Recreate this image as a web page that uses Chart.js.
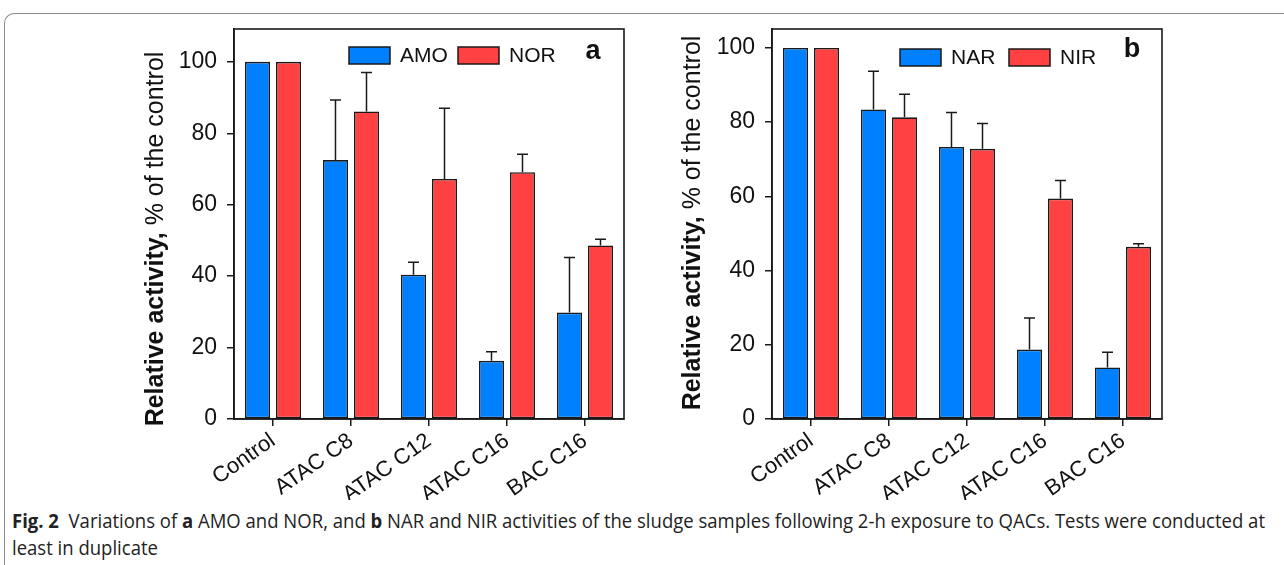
<!DOCTYPE html>
<html>
<head>
<meta charset="utf-8">
<script src="https://cdn.jsdelivr.net/npm/chart.js@4"></script>
<style>
  html, body { margin: 0; padding: 0; background: #fff; }
  body { width: 1284px; height: 565px; position: relative; overflow: hidden; }
  .frame {
    position: absolute; left: 4px; top: 13px; width: 1400px; height: 700px;
    border-left: 1px solid #8a8a8a; border-top: 1px solid #8a8a8a;
    border-top-left-radius: 10px;
  }
  .panel { position: absolute; top: 0; height: 500px; }
  #wrapA { left: 0; width: 640px; }
  #wrapB { left: 640px; width: 540px; }
  .caption {
    position: absolute; left: 12px; font-family: "Open Sans", sans-serif;
    font-size: 19.5px; color: #222; white-space: nowrap; transform-origin: left top;
  }
  .caption b { font-weight: 700; }
</style>
</head>
<body>
<div class="frame"></div>
<div class="panel" id="wrapA"><canvas id="chartA" width="640" height="500"></canvas></div>
<div class="panel" id="wrapB"><canvas id="chartB" width="540" height="500"></canvas></div>
<div class="caption" id="cap1" style="top:507px"><b>Fig. 2</b>&nbsp; Variations of <b>a</b> AMO and NOR, and <b>b</b> NAR and NIR activities of the sludge samples following 2-h exposure to QACs. Tests were conducted at</div>
<div class="caption" id="cap2" style="top:534px">least in duplicate</div>

<script>
// 数据
const categories = ['Control', 'ATAC C8', 'ATAC C12', 'ATAC C16', 'BAC C16'];

// 图 a
const amo    = [100, 72.5, 40.4, 16.3, 29.8];
const amoErr = [0, 16.8, 3.5, 2.5, 15.4];
const nor    = [100, 86.1, 67.2, 69.1, 48.6];
const norErr = [0, 10.9, 19.8, 5.0, 1.7];

// 图 b
const nar    = [100, 83.4, 73.3, 18.7, 13.9];
const narErr = [0, 10.3, 9.3, 8.5, 4.1];
const nir    = [100, 81.3, 72.8, 59.4, 46.4];
const nirErr = [0, 6.2, 6.8, 4.9, 0.8];

const BLUE = '#0080ff';
const RED = '#ff4141';
const INK = '#1a1a1a';
const FONT = '"Liberation Sans", Arial, sans-serif';

// 误差线 + 边框 + 图例 + 轴标题
const decorPlugin = {
  id: 'decor',
  afterDatasetsDraw(chart, args, o) {
    const ctx = chart.ctx;
    const ys = chart.scales.y;
    const area = chart.chartArea;
    ctx.save();

    // 误差线（只画上半部分）
    ctx.strokeStyle = INK;
    ctx.lineWidth = 1.5;
    chart.data.datasets.forEach((ds, i) => {
      const meta = chart.getDatasetMeta(i);
      meta.data.forEach((bar, j) => {
        const e = ds.err[j];
        if (!e) return;
        const top = ys.getPixelForValue(ds.data[j] + e);
        ctx.beginPath();
        ctx.moveTo(bar.x, bar.y);
        ctx.lineTo(bar.x, top);
        ctx.moveTo(bar.x - 5.5, top);
        ctx.lineTo(bar.x + 5.5, top);
        ctx.stroke();
      });
    });

    // 外框
    ctx.lineWidth = 1.6;
    ctx.strokeRect(area.left, area.top, area.right - area.left, area.bottom - area.top);

    // 图例
    ctx.font = '21px ' + FONT;
    ctx.textBaseline = 'middle';
    chart.data.datasets.forEach((ds, i) => {
      const x = area.left + o.legendX[i];
      const y = area.top + o.legendY;
      ctx.fillStyle = ds.backgroundColor;
      ctx.fillRect(x, y, 41, 17);
      ctx.lineWidth = 1.5;
      ctx.strokeStyle = INK;
      ctx.strokeRect(x, y, 41, 17);
      ctx.fillStyle = '#111';
      ctx.textAlign = 'left';
      ctx.fillText(ds.label, x + 51, y + 9);
    });

    // 面板字母
    ctx.font = 'bold 27px ' + FONT;
    ctx.textAlign = 'center';
    ctx.fillText(o.letter, area.left + o.letterX, area.top + o.letterY);

    // y 轴标题（粗体 + 常规混排）
    const boldPart = 'Relative activity,';
    const normPart = ' % of the control';
    ctx.font = 'bold 25px ' + FONT;
    const w1 = ctx.measureText(boldPart).width;
    ctx.font = '25px ' + FONT;
    const w2 = ctx.measureText(normPart).width;
    ctx.translate(o.titleX, o.titleY);
    ctx.rotate(-Math.PI / 2);
    ctx.textAlign = 'left';
    ctx.textBaseline = 'middle';
    const start = -(w1 + w2) / 2;
    ctx.font = 'bold 25px ' + FONT;
    ctx.fillText(boldPart, start, 0);
    ctx.font = '25px ' + FONT;
    ctx.fillText(normPart, start + w1, 0);

    ctx.restore();
  }
};

function makePanel(id, s1, s2, cfg) {
  return new Chart(document.getElementById(id), {
    type: 'bar',
    data: {
      labels: categories,
      datasets: [
        { label: s1.label, data: s1.data, err: s1.err, backgroundColor: BLUE,
          borderColor: INK, borderWidth: 1.6, borderSkipped: false },
        { label: s2.label, data: s2.data, err: s2.err, backgroundColor: RED,
          borderColor: INK, borderWidth: 1.6, borderSkipped: false },
      ],
    },
    options: {
      responsive: false,
      animation: false,
      categoryPercentage: 0.795,
      barPercentage: 0.81,
      layout: { padding: { left: cfg.padLeft, right: cfg.padRight, top: 29, bottom: 0 } },
      plugins: {
        legend: { display: false },
        tooltip: { enabled: false },
        decor: cfg.decor,
      },
      scales: {
        x: {
          afterFit: (s) => { s.height = 81; },
          grid: { drawOnChartArea: false, offset: false, tickLength: 7, color: INK, lineWidth: 1.5 },
          border: { color: INK, width: 1.6 },
          ticks: { minRotation: 35, maxRotation: 35, padding: 2, color: '#111', font: { family: FONT, size: 22 } },
        },
        y: {
          min: 0,
          max: cfg.yMax,
          afterFit: (s) => { s.width = 90; },
          grid: { drawOnChartArea: false, tickLength: 7, color: INK, lineWidth: 1.5 },
          border: { color: INK, width: 1.6 },
          ticks: { stepSize: 20, includeBounds: false, padding: 10, color: '#111', font: { family: FONT, size: 23 } },
        },
      },
    },
    plugins: [decorPlugin],
  });
}

makePanel('chartA',
  { label: 'AMO', data: amo, err: amoErr },
  { label: 'NOR', data: nor, err: norErr },
  { padLeft: 144, padRight: 16, yMax: 109.2,
    decor: { legendX: [115, 224], legendY: 18, letter: 'a', letterX: 359, letterY: 23, titleX: 156, titleY: 239 } });

makePanel('chartB',
  { label: 'NAR', data: nar, err: narErr },
  { label: 'NIR', data: nir, err: nirErr },
  { padLeft: 42, padRight: 18, yMax: 105.1,
    decor: { legendX: [128, 237], legendY: 20, letter: 'b', letterX: 360, letterY: 21, titleX: 53, titleY: 223 } });

// 图注缩放到原图宽度
const cap1 = document.getElementById('cap1');
const cap2 = document.getElementById('cap2');
const k = 1253 / cap1.getBoundingClientRect().width;
cap1.style.transform = `scaleX(${k})`;
cap2.style.transform = `scaleX(${k})`;
</script>
</body>
</html>
